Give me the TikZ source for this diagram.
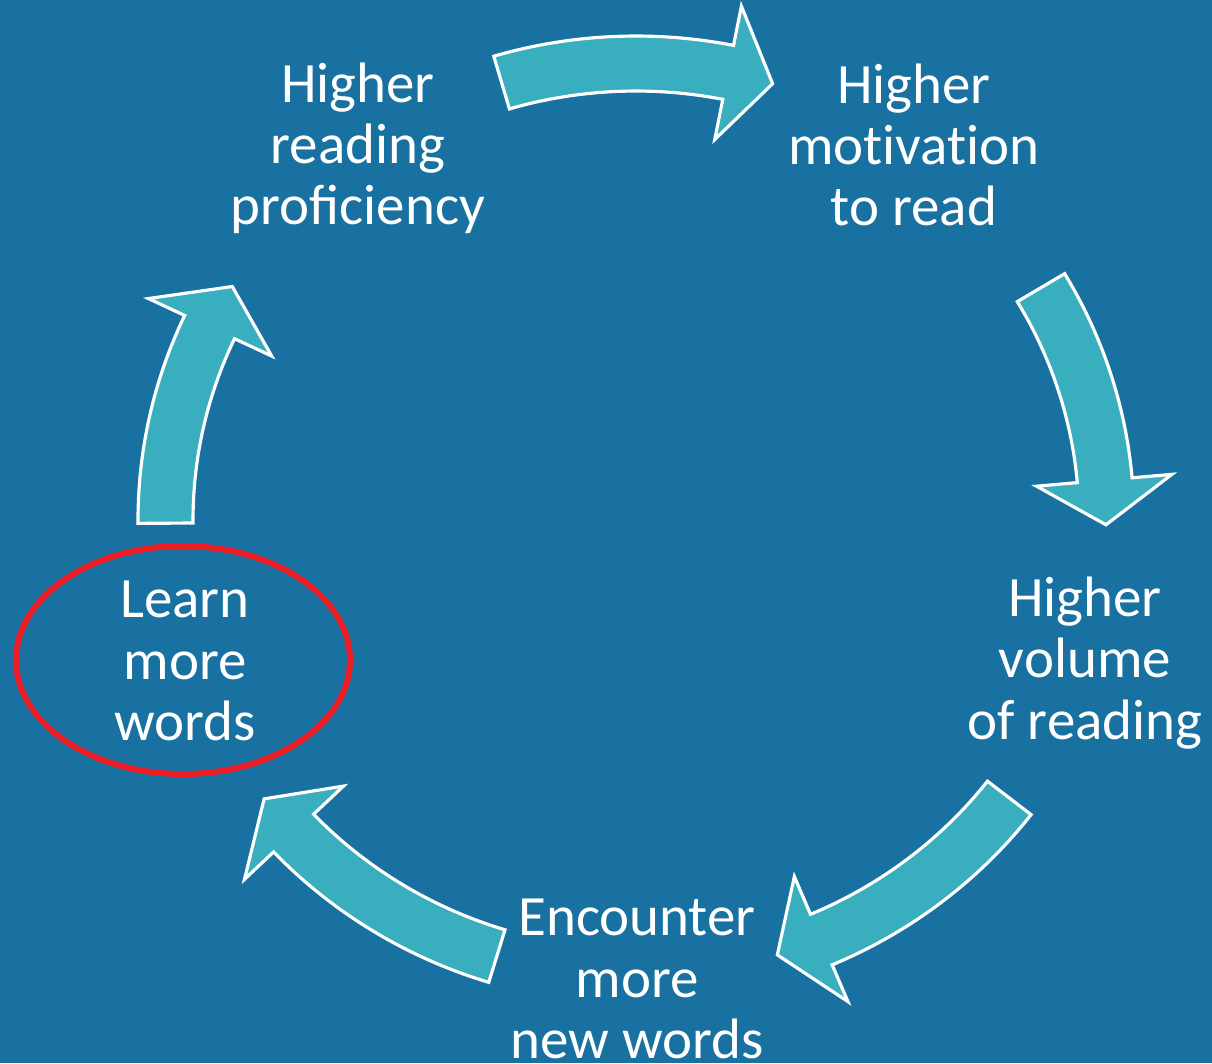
\documentclass[tikz,border=0pt]{standalone}
\usepackage{fontspec}
\setmainfont{Carlito}
\usepackage{tikz}
\definecolor{slideblue}{HTML}{1871A0}
\definecolor{arrowteal}{HTML}{38AEBF}
\definecolor{ringred}{HTML}{ED1C24}
% one curved block arrow of the cycle: tail angle, head base angle, tip angle
\def\cyclearrow#1#2#3{%
  \filldraw[arrowbody] (#1:443 and 429) -- (#1:498 and 484)
    arc[start angle=#1, end angle=#2, x radius=498, y radius=484]
    -- (#2:538 and 524) -- (#3:470 and 456) -- (#2:402 and 388)
    -- (#2:443 and 429)
    arc[start angle=#2, end angle=#1, x radius=443, y radius=429] -- cycle;}

\begin{document}
\begin{tikzpicture}[x=0.01cm,y=-0.01cm,
    arrowbody/.style={fill=arrowteal,draw=white,line width=0.9pt,line join=miter},
    stage/.style={text=white,align=center,font=\fontsize{16.2}{17.4}\selectfont},
    ring/.style={draw=ringred,line width=1.7pt}]
    \fill[slideblue] (0,0) rectangle (1212,1063);
    \useasboundingbox (0,0) rectangle (1212,1063);
      \begin{scope}[shift={(636,520)}]
    \cyclearrow{179.6}{205}{210.8}
    \cyclearrow{253.4}{281.3}{286.9}
    \cyclearrow{329.4}{355}{360.6}
    \cyclearrow{397.5}{426.8}{432.5}
    \cyclearrow{467.2}{496.7}{502.3}
      \end{scope}
      \node[stage] (prof) at (358,148) {Higher\\reading\\proficiency};
      \node[stage] (motiv) at (914,145) {Higher\\mot\kern0pt ivat\kern0pt ion\\to read};
      \node[stage] (volume) at (1085,663) {Higher\\volume\\of reading};
      \node[stage] (encounter) at (637,979) {Encounter\\more\\new words};
      \node[stage] (learn) at (185,661) {Learn\\more\\words};
      \draw[ring] (183,660) ellipse[x radius=167, y radius=114];
    \end{tikzpicture}
\end{document}
